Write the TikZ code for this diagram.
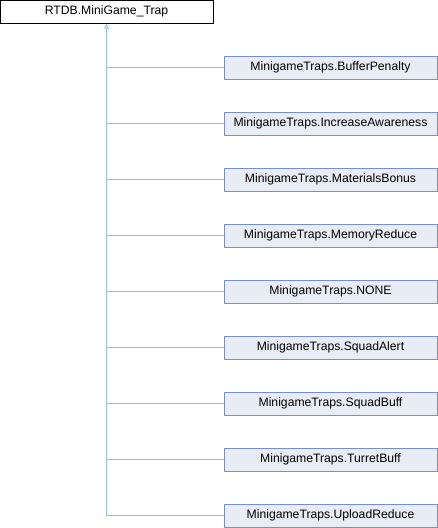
\documentclass[tikz,border=0pt]{standalone}
\usepackage{fontspec}
\setmainfont{Liberation Sans}
\usetikzlibrary{arrows.meta, positioning, calc}

\definecolor{edgeblue}{HTML}{8FC6E6}
\definecolor{boxfill}{HTML}{E8ECF5}
\definecolor{boxline}{HTML}{7B8FC6}

\begin{document}
\begin{tikzpicture}[x=1pt, y=1pt,
    cls/.style={draw, thick, minimum width=213pt, minimum height=23pt, inner sep=0pt,
        font=\fontsize{12.2}{14}\selectfont},
    derived/.style={cls, draw=boxline, fill=boxfill, line width=0.9pt},
    edge/.style={draw=edgeblue, line width=0.9pt}]
\useasboundingbox (0,0) rectangle (438,-528);

% Base class
\node[cls, line width=1pt] (base) at (106.5,-11.5) {RTDB.MiniGame\_Trap};

% Derived classes
\foreach \cname [count=\i] in {BufferPenalty, IncreaseAwareness, MaterialsBonus,
    MemoryReduce, NONE, SquadAlert, SquadBuff, TurretBuff, UploadReduce} {
    \node[derived] (c\i) at (330.5,{-67.5-56*(\i-1)}) {MinigameTraps.\cname};
    \draw[edge] (c\i.west) -- (base.south |- c\i.west);
}

% Inheritance arrow
\draw[edge, {Triangle[open, length=5pt, width=4.5pt]}-] (base.south) -- (base.south |- c9.west);
\end{tikzpicture}
\end{document}
